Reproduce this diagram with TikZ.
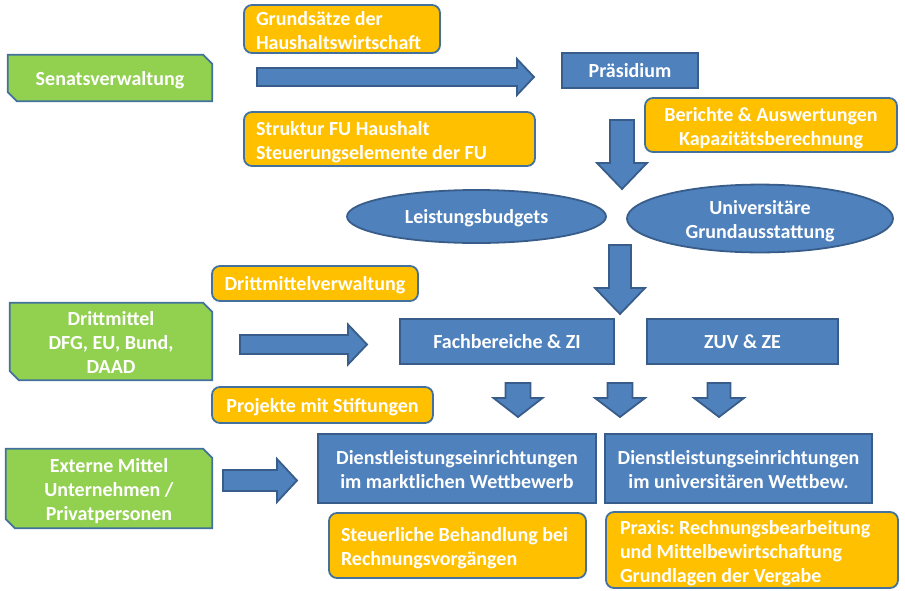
\documentclass[tikz,border=0pt]{standalone}
\usepackage{fontspec}
\setmainfont{Carlito}
\frenchspacing
\usetikzlibrary{shapes.geometric,backgrounds}
\definecolor{bfill}{HTML}{4F81BD}
\definecolor{bline}{HTML}{385D8A}
\definecolor{ofill}{HTML}{FFC000}
\definecolor{gfill}{HTML}{92D050}
\definecolor{oline}{HTML}{41719C}
\newcommand\myRarrow[6]{\draw[blockarrow] (#1,#4-#5) -- (#2,#4-#5) -- (#2,#4-#6) -- (#3,#4) -- (#2,#4+#6) -- (#2,#4+#5) -- (#1,#4+#5) -- cycle;}
\newcommand\myDarrow[6]{\draw[blockarrow] (#1-#5,#2) -- (#1-#5,#3) -- (#1-#6,#3) -- (#1,#4) -- (#1+#6,#3) -- (#1+#5,#3) -- (#1+#5,#2) -- cycle;}
\newcommand\myChamfer[1]{\draw[greenline] (#1.north west) -- ([xshift=-9pt]#1.north east) -- ([yshift=-9pt]#1.north east) -- (#1.south east) -- ([xshift=9pt]#1.south west) -- ([yshift=9pt]#1.south west) -- cycle;}
\newcommand\myT[3][3.5pt]{\raisebox{-#1}[\height][\depth]{\begin{tabular}{@{}#2@{}}#3\end{tabular}}}
\tikzset{
  x=1pt,y=-1pt,
  every node/.style={font=\fontsize{20}{24}\selectfont\bfseries\frenchspacing, text=white, inner sep=0pt},
  bluebox/.style={draw=bline, fill=bfill, line width=1.8pt},
  orangebox/.style={draw=oline, fill=ofill, line width=1.8pt, rounded corners=8pt},
  oleft/.style={orangebox, align=flush left, inner xsep=12pt},
  ocenter/.style={orangebox},
  greenbox/.style={},
  greenline/.style={draw=oline, fill=gfill, line width=1.8pt},
  oval/.style={ellipse, draw=bline, fill=bfill, line width=1.8pt},
  blockarrow/.style={draw=bline, fill=bfill, line width=1.8pt, line join=miter},
}
\begin{document}
\begin{tikzpicture}
\useasboundingbox (0,0) rectangle (905,590);
% green boxes
\node[greenbox, minimum width=204pt, minimum height=46pt] (sen) at (110,78) {\myT[2.5pt]{c}{Senatsverwaltung}};
\node[greenbox, minimum width=202pt, minimum height=77pt] (dritt) at (111,341.5) {\myT{c}{Drittmittel\\DFG, EU, Bund,\\DAAD}};
\node[greenbox, minimum width=206pt, minimum height=79pt] (ext) at (109,488.5) {\myT{c}{Externe Mittel\\Unternehmen /\\Privatpersonen}};
\begin{scope}[on background layer]
\myChamfer{sen}
\myChamfer{dritt}
\myChamfer{ext}
\end{scope}
% orange boxes
\node[oleft, text width=172pt, minimum height=48pt] (grund) at (342,29) {\myT{l}{Grundsätze der\\Haushaltswirtschaft}};
\node[oleft, text width=267pt, minimum height=54pt] (struktur) at (389.5,139) {\myT{l}{Struktur FU Haushalt\\Steuerungselemente der FU}};
\node[ocenter, minimum width=252pt, minimum height=54pt] (berichte) at (771,125) {\myT{c}{Berichte \& Auswertungen\\Kapazitätsberechnung}};
\node[ocenter, minimum width=206pt, minimum height=35pt] (dmv) at (315,283.5) {\myT[2.5pt]{c}{Drittmittelverwaltung}};
\node[ocenter, minimum width=221pt, minimum height=36pt] (proj) at (322.5,405) {\myT[2.5pt]{c}{Projekte mit Stiftungen}};
\node[oleft, text width=233pt, minimum height=65pt] (steuer) at (457.5,545.5) {\myT{l}{Steuerliche Behandlung bei\\Rechnungsvorgängen}};
\node[oleft, inner xsep=14pt, text width=264pt, minimum height=76pt] (praxis) at (752,550) {\myT[4pt]{l}{Praxis: Rechnungsbearbeitung\\und Mittelbewirtschaftung\\Grundlagen der Vergabe}};
% blue boxes
\node[bluebox, minimum width=136pt, minimum height=35pt] (praes) at (630,70.5) {\myT[2.5pt]{c}{Präsidium}};
\node[bluebox, minimum width=214pt, minimum height=45pt] (fb) at (507,341.5) {\myT[2.5pt]{c}{Fachbereiche \& ZI}};
\node[bluebox, minimum width=191pt, minimum height=45pt] (zuv) at (742.5,341.5) {\myT[2.5pt]{c}{ZUV \& ZE}};
\node[bluebox, minimum width=278pt, minimum height=69pt] (dl1) at (457,468.5) {\myT{c}{Dienstleistungseinrichtungen\\im marktlichen Wettbewerb}};
\node[bluebox, minimum width=267pt, minimum height=69pt] (dl2) at (738.5,468.5) {\myT{c}{Dienstleistungseinrichtungen\\im universitären Wettbew.}};
% ellipses
\node[oval, minimum width=259pt, minimum height=53pt] (leist) at (476.5,216.5) {\myT[2.5pt]{c}{Leistungsbudgets}};
\node[oval, minimum width=266pt, minimum height=55pt] (univ) at (760,218.5) {\myT{c}{Universitäre\\Grundausstattung}};
% block arrows
\myRarrow{257}{517}{534}{77}{9}{18}
\myRarrow{240}{348}{367}{344.5}{9.5}{20}
\myRarrow{223}{277}{297}{480.5}{10.5}{21.5}
\myDarrow{622}{120}{163}{189}{12}{25}
\myDarrow{620}{245}{288}{314}{11}{25}
\myDarrow{518}{383}{398}{417}{12.5}{24.5}
\myDarrow{620}{383}{398}{417}{12.5}{25}
\myDarrow{719}{383}{398}{417}{11.5}{25}
\end{tikzpicture}
\end{document}
